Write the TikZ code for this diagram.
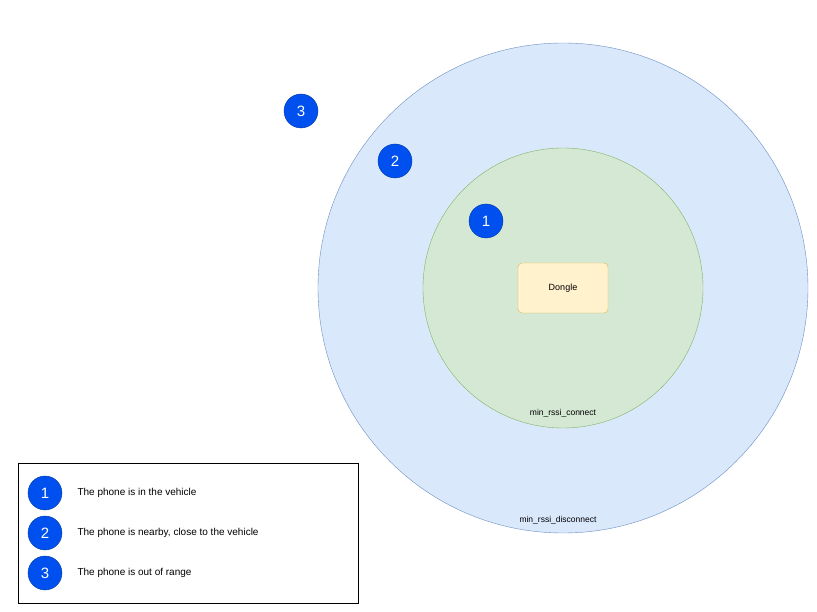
\documentclass[tikz,border=0pt]{standalone}
\usepackage{fontspec}
\setmainfont{Liberation Sans}
\definecolor{bfill}{HTML}{DAE8FC}\definecolor{bstroke}{HTML}{6C8EBF}
\definecolor{gfill}{HTML}{D5E8D4}\definecolor{gstroke}{HTML}{82B366}
\definecolor{yfill}{HTML}{FFF2CC}\definecolor{ystroke}{HTML}{D6B656}
\definecolor{badgec}{HTML}{0050EF}
\begin{document}
\begin{tikzpicture}[x=1pt,y=-1pt,
  badge/.style={circle,fill=badgec,draw=badgec!70!black,minimum size=34pt,inner sep=0pt,text=white,font=\fontsize{15}{15}\selectfont},
  lbl/.style={font=\fontsize{10}{12}\selectfont,anchor=west}]
\useasboundingbox (0,0) rectangle (817,612);
\node[circle,fill=bfill,draw=bstroke,minimum size=490pt,inner sep=0pt] (outer) at (563,288) {};
\node[circle,fill=gfill,draw=gstroke,minimum size=280pt,inner sep=0pt] (inner) at (563,288) {};
\node[draw=ystroke,fill=yfill,rounded corners=4pt,minimum width=90pt,minimum height=50pt,font=\fontsize{9}{11}\selectfont] (dongle) at (563,288) {Dongle};
\node[font=\fontsize{8.5}{10}\selectfont] (lc) at (563,413) {min\_rssi\_connect};
\node[font=\fontsize{8.5}{10}\selectfont] (ld) at (558,520) {min\_rssi\_disconnect};
\node[badge] (b1) at (486,221) {1};
\node[badge] (b2) at (395,161) {2};
\node[badge] (b3) at (301,111) {3};
\node[draw=black,minimum width=340pt,minimum height=140pt,inner sep=0pt] (legend) at (188,533) {};
\node[badge] (l1) at (45,493) {1};
\node[badge] (l2) at (45,533) {2};
\node[badge] (l3) at (45,573) {3};
\node[lbl] (t1) at (74,493) {The phone is in the vehicle};
\node[lbl] (t2) at (74,533) {The phone is nearby, close to the vehicle};
\node[lbl] (t3) at (74,573) {The phone is out of range};
\end{tikzpicture}
\end{document}
